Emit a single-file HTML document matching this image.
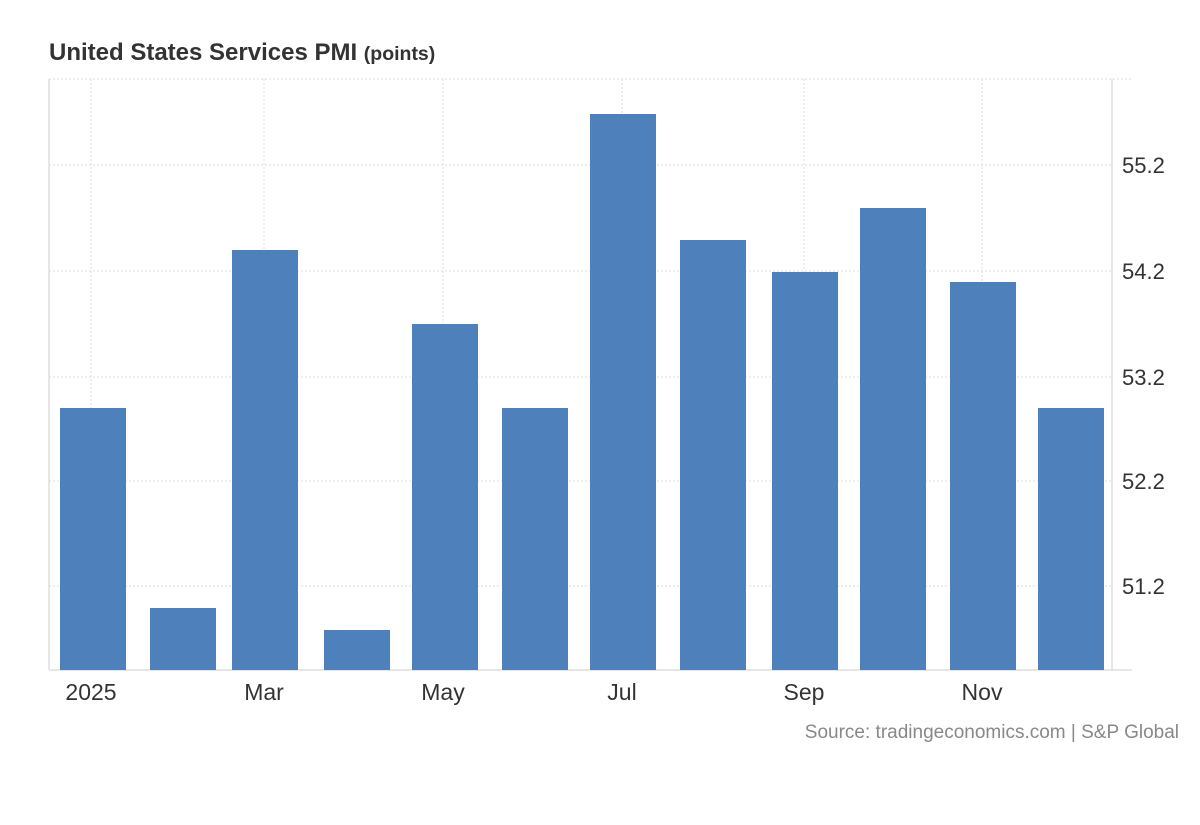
<!DOCTYPE html>
<html><head><style>
body{margin:0;background:#fff;width:1200px;height:820px;overflow:hidden;font-family:"Liberation Sans",Arial,sans-serif}
</style></head><body>
<svg width="1200" height="820" xmlns="http://www.w3.org/2000/svg" font-family="Liberation Sans, Arial, sans-serif">
<text x="49" y="60" font-size="24" font-weight="bold" fill="#333">United States Services PMI <tspan font-size="19.5">(points)</tspan></text>
<g stroke="#ddd" stroke-width="1" stroke-dasharray="2,2">
<line x1="49" y1="79" x2="1132" y2="79"/>
<line x1="49" y1="165" x2="1112" y2="165"/>
<line x1="49" y1="271" x2="1112" y2="271"/>
<line x1="49" y1="377" x2="1112" y2="377"/>
<line x1="49" y1="481" x2="1112" y2="481"/>
<line x1="49" y1="586" x2="1112" y2="586"/>
<line x1="91" y1="79" x2="91" y2="670"/>
<line x1="264" y1="79" x2="264" y2="670"/>
<line x1="443" y1="79" x2="443" y2="670"/>
<line x1="622" y1="79" x2="622" y2="670"/>
<line x1="804" y1="79" x2="804" y2="670"/>
<line x1="982" y1="79" x2="982" y2="670"/>
</g>
<g stroke="#ddd" stroke-width="1.5">
<line x1="49" y1="79" x2="49" y2="670"/>
<line x1="1112" y1="79" x2="1112" y2="670"/>
<line x1="49" y1="670" x2="1132" y2="670"/>
</g>
<g fill="#4e81bb">
<rect x="60" y="408" width="66" height="262"/>
<rect x="150" y="608" width="66" height="62"/>
<rect x="232" y="250" width="66" height="420"/>
<rect x="324" y="630" width="66" height="40"/>
<rect x="412" y="324" width="66" height="346"/>
<rect x="502" y="408" width="66" height="262"/>
<rect x="590" y="114" width="66" height="556"/>
<rect x="680" y="240" width="66" height="430"/>
<rect x="772" y="272" width="66" height="398"/>
<rect x="860" y="208" width="66" height="462"/>
<rect x="950" y="282" width="66" height="388"/>
<rect x="1038" y="408" width="66" height="262"/>
</g>
<g font-size="22" fill="#333">
<text x="1122" y="173">55.2</text>
<text x="1122" y="279">54.2</text>
<text x="1122" y="385">53.2</text>
<text x="1122" y="489">52.2</text>
<text x="1122" y="594">51.2</text>
</g>
<g font-size="23" fill="#333" text-anchor="middle">
<text x="91" y="700">2025</text>
<text x="264" y="700">Mar</text>
<text x="443" y="700">May</text>
<text x="622" y="700">Jul</text>
<text x="804" y="700">Sep</text>
<text x="982" y="700">Nov</text>
</g>
<text x="1179" y="738" font-size="19" fill="#888" text-anchor="end">Source: tradingeconomics.com | S&amp;P Global</text>
</svg>
</body></html>
